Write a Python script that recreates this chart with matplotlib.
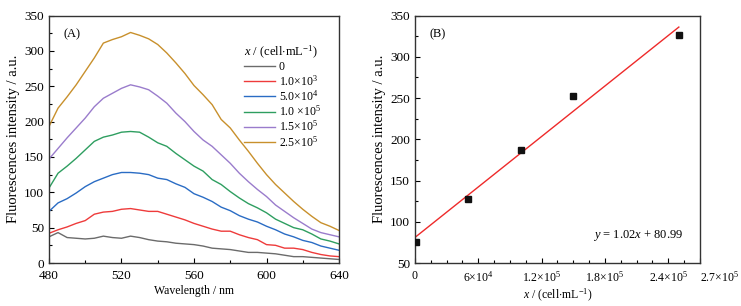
import matplotlib
matplotlib.use('Agg')
import matplotlib.pyplot as plt
import numpy as np
from matplotlib.ticker import MultipleLocator, FixedLocator

plt.rcParams['font.family'] = ['Liberation Serif', 'DejaVu Serif']
plt.rcParams['mathtext.fontset'] = 'custom'
plt.rcParams['mathtext.rm'] = 'Liberation Serif'
plt.rcParams['mathtext.it'] = 'Liberation Serif:italic'
plt.rcParams['font.size'] = 9

# Panel A: emission spectra
wavelength = list(range(480, 641, 5))
int_0 = [37, 43, 36, 35, 34, 35, 38, 36, 35, 38, 36, 33, 31, 30, 28, 27, 26,
         24, 21, 20, 19, 17, 15, 15, 14, 13, 11, 9, 9, 8, 7, 6, 5]
int_1e3 = [42, 47, 51, 56, 60, 69, 72, 73, 76, 77, 75, 73, 73, 69, 65, 61, 56,
           52, 48, 45, 45, 40, 36, 33, 26, 25, 21, 21, 19, 15, 12, 10, 9]
int_5e4 = [73, 85, 91, 99, 108, 115, 120, 125, 128, 128, 127, 125, 120, 118, 112, 107, 98,
           93, 87, 79, 74, 67, 62, 58, 52, 47, 41, 37, 32, 29, 24, 21, 18]
int_1e5 = [106, 127, 137, 148, 160, 172, 178, 181, 185, 186, 185, 178, 170, 165, 155, 146, 137,
           130, 118, 111, 101, 92, 84, 78, 71, 62, 56, 50, 47, 41, 34, 31, 27]
int_15e5 = [147, 162, 177, 191, 205, 221, 233, 240, 247, 252, 249, 245, 236, 226, 212, 200, 186,
            174, 165, 153, 141, 127, 115, 104, 94, 82, 73, 64, 56, 48, 43, 40, 37]
int_25e5 = [193, 219, 235, 252, 271, 290, 311, 316, 320, 326, 322, 317, 309, 297, 283, 268, 251,
            238, 224, 203, 191, 174, 158, 141, 125, 111, 99, 87, 76, 66, 57, 52, 46]

series = [int_0, int_1e3, int_5e4, int_1e5, int_15e5, int_25e5]
labels = ['0', r'1.0$\times$10$^3$', r'5.0$\times$10$^4$', r'1.0 $\times$10$^5$',
          r'1.5$\times$10$^5$', r'2.5$\times$10$^5$']
colors = ['#6b6b6b', '#ee3b3b', '#2a6cc4', '#2e9e60', '#9a7ccc', '#c8902c']

# Panel B: calibration
conc = [1e3, 5e4, 1e5, 1.5e5, 2.5e5]
peak = [76, 127, 187, 252, 326]
slope = 1.02
intercept = 80.99
xticks_b = [0, 6e4, 1.2e5, 1.8e5, 2.4e5, 2.7e5]
xticklabels_b = ['0', r'6$\times$10$^4$', r'1.2$\times$10$^5$', r'1.8$\times$10$^5$',
                 r'2.4$\times$10$^5$', r'2.7$\times$10$^5$']

fig = plt.figure(figsize=(7.41, 3.06), dpi=100)
axA = fig.add_axes([0.0661, 0.1405, 0.3914, 0.8088])
axB = fig.add_axes([0.5600, 0.1405, 0.3846, 0.8088])

for y, lab, c in zip(series, labels, colors):
    axA.plot(wavelength, y, color=c, lw=1.0, label=lab)
axA.set_xlim(480, 640)
axA.set_ylim(0, 350)
axA.xaxis.set_major_locator(MultipleLocator(40))
axA.xaxis.set_minor_locator(MultipleLocator(20))
axA.yaxis.set_major_locator(MultipleLocator(50))
axA.yaxis.set_minor_locator(MultipleLocator(25))
axA.set_xlabel('Wavelength / nm', fontsize=8.5, labelpad=2)
axA.set_ylabel('Fluorescences intensity / a.u.', fontsize=10.5, labelpad=3)
axA.text(0.05, 0.95, '(A)', transform=axA.transAxes, va='top', ha='left')
leg = axA.legend(title=r'$x$ / (cell$\cdot$mL$^{-1}$)', loc='upper right',
                 bbox_to_anchor=(0.965, 0.92), frameon=False, handlelength=2.6,
                 handletextpad=0.3, labelspacing=0.05, borderpad=0.2,
                 fontsize=8.5, title_fontsize=9)
leg._legend_box.align = 'left'

axB.plot(conc, peak, 's', color='#111111', ms=4, zorder=3)
xfit = np.array([0, 2.5e5])
axB.plot(xfit, slope * xfit / 1000 + intercept, color='#ee2a2a', lw=1.0)
axB.set_xlim(0, 2.7e5)
axB.set_ylim(50, 350)
axB.xaxis.set_major_locator(FixedLocator(xticks_b))
axB.xaxis.set_minor_locator(MultipleLocator(1.5e4))
axB.set_xticklabels(xticklabels_b)
axB.get_xticklabels()[-1].set_horizontalalignment('left')
axB.yaxis.set_major_locator(MultipleLocator(50))
axB.yaxis.set_minor_locator(MultipleLocator(25))
axB.set_xlabel(r'$x$ / (cell$\cdot$mL$^{-1}$)', fontsize=8.5, labelpad=2)
axB.set_ylabel('Fluorescences intensity / a.u.', fontsize=10.5, labelpad=3)
axB.text(0.05, 0.95, '(B)', transform=axB.transAxes, va='top', ha='left')
axB.text(0.94, 0.08, r'$y$ = 1.02$x$ + 80.99', transform=axB.transAxes,
         ha='right', va='bottom')

for ax in (axA, axB):
    ax.tick_params(which='both', direction='in', top=False, right=False)
    ax.tick_params(which='major', length=3.5, width=0.8, labelsize=9.5)
    ax.tick_params(which='minor', length=2, width=0.8)
    ax.tick_params(axis='x', pad=5)
    for s in ax.spines.values():
        s.set_linewidth(1.0)
        s.set_color('#333333')
axB.tick_params(axis='x', labelsize=8.5)

fig.savefig('out.png', dpi=100)
